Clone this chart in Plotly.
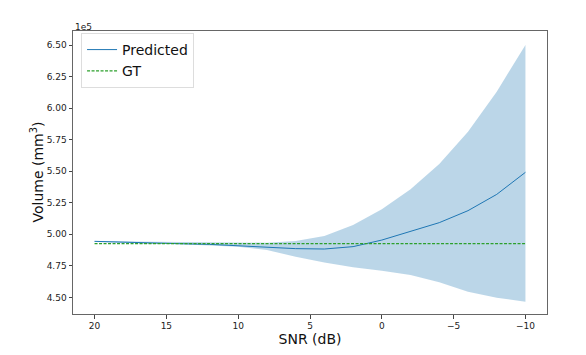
import plotly.graph_objects as go

# SNR sweep (dB) and volumes in units of 1e5 mm^3
SNR_DB = [20, 18, 16, 14, 12, 10, 8, 6, 4, 2, 0, -2, -4, -6, -8, -10]
PRED_MEAN = [4.944, 4.936, 4.931, 4.925, 4.920, 4.910, 4.902, 4.886, 4.883, 4.902,
             4.954, 5.021, 5.092, 5.187, 5.316, 5.491]
PRED_UPPER = [4.947, 4.942, 4.940, 4.938, 4.936, 4.934, 4.933, 4.947, 4.986, 5.073,
              5.198, 5.356, 5.557, 5.813, 6.130, 6.500]
PRED_LOWER = [4.938, 4.930, 4.925, 4.920, 4.910, 4.902, 4.875, 4.822, 4.777, 4.738,
              4.711, 4.677, 4.619, 4.545, 4.497, 4.466]
GT_VOLUME = 4.925

X_TICKS = [20, 15, 10, 5, 0, -5, -10]
Y_TICKS = [4.50, 4.75, 5.00, 5.25, 5.50, 5.75, 6.00, 6.25, 6.50]

BLUE = "#1f77b4"
GREEN = "#2ca02c"
FONT = "DejaVu Sans"

fig = go.Figure()

# shaded band
fig.add_trace(go.Scatter(
    x=SNR_DB, y=PRED_UPPER, mode="lines", line=dict(width=0),
    showlegend=False, hoverinfo="skip",
))
fig.add_trace(go.Scatter(
    x=SNR_DB, y=PRED_LOWER, mode="lines", line=dict(width=0),
    fill="tonexty", fillcolor="rgba(31,119,180,0.3)",
    showlegend=False, hoverinfo="skip",
))
fig.add_trace(go.Scatter(
    x=SNR_DB, y=PRED_MEAN, mode="lines", name="Predicted",
    line=dict(color=BLUE, width=1),
))
fig.add_trace(go.Scatter(
    x=SNR_DB, y=[GT_VOLUME] * len(SNR_DB), mode="lines", name="GT",
    line=dict(color=GREEN, width=1.2, dash="3px,1.5px"),
))

axis_common = dict(
    showgrid=False, zeroline=False, showline=True, linecolor="#666666",
    linewidth=1, mirror=True, ticks="outside", ticklen=3.5, tickwidth=0.8,
    tickcolor="#444444", tickfont=dict(family=FONT, size=9, color="#222222"),
    automargin=False,
)

fig.update_xaxes(
    range=[21.5, -11.5], tickvals=X_TICKS,
    title=dict(text="SNR (dB)", font=dict(family=FONT, size=14, color="#111111"),
               standoff=1),
    **axis_common,
)
fig.update_yaxes(
    range=[4.368, 6.611], tickvals=Y_TICKS, tickformat=".2f",
    **axis_common,
)

# y title placed by hand, a bit closer to the tick labels than plotly's default
fig.add_annotation(
    text="Volume (mm<sup>3</sup>)", xref="paper", yref="paper", x=0, y=0.5,
    xanchor="center", yanchor="middle", textangle=-90, showarrow=False,
    xshift=-36, font=dict(family=FONT, size=14, color="#111111"),
)

fig.add_annotation(
    text="1e5", xref="paper", yref="paper", x=0, y=1.0, xanchor="left",
    yanchor="bottom", showarrow=False, font=dict(family=FONT, size=9, color="#222222"),
    yshift=-3,
)

# the page body adds an 8px margin, so the figure is 8px smaller on each axis
fig.update_layout(
    width=578, height=347,
    margin=dict(l=65, r=39, t=23, b=41),
    plot_bgcolor="white", paper_bgcolor="white",
    font=dict(family=FONT),
    legend=dict(
        x=0.017, y=0.993, xanchor="left", yanchor="top", traceorder="normal",
        bgcolor="rgba(255,255,255,0.8)", bordercolor="#dddddd", borderwidth=1,
        font=dict(family=FONT, size=14, color="#111111"),
        itemwidth=30, tracegroupgap=0,
    ),
)

fig.write_html("out.html")
